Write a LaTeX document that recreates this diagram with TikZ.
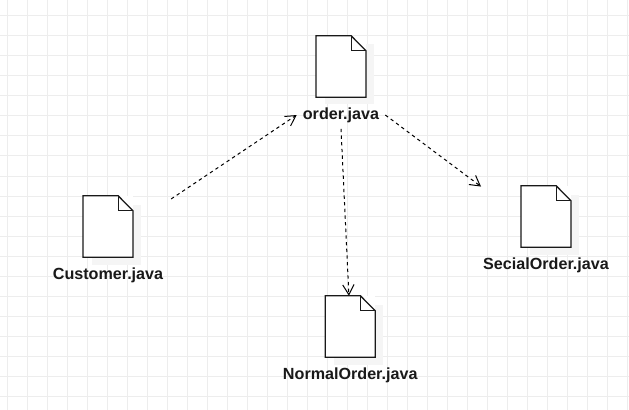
\documentclass[tikz,border=0pt]{standalone}
\usepackage{fontspec}
\setmainfont{Liberation Sans}
\usetikzlibrary{arrows.meta, positioning}

\begin{document}
\begin{tikzpicture}[x=0.75pt, y=-0.75pt, node distance=0pt]
    % Styles
    \tikzstyle{gridline} = [draw, line width=0.75pt, black!7]
    \tikzstyle{docbox} = [rectangle, fill=white, inner sep=0pt, minimum width=37pt, minimum height=45.75pt]
    \tikzstyle{docline} = [draw, line width=0.95pt, black!90, line join=miter]
    \tikzstyle{docshadow} = [fill=black!4]
    \tikzstyle{doclabel} = [font=\bfseries\fontsize{12.1pt}{14pt}\selectfont, text=black!90, inner xsep=4.5pt, inner ysep=4.5pt]
    \tikzstyle{depline} = [draw, -{Straight Barb[length=7.5pt, width=8.5pt]}, line width=0.75pt, dash pattern=on 2.5pt off 2.5pt]

    \useasboundingbox (0,0) rectangle (629,410);
    \fill [white] (0,0) rectangle (629,410);

    % Grid
    \foreach \gx in {7,27,...,627} \draw [gridline] (\gx,0) -- (\gx,410);
    \foreach \gy in {16,36,...,396} \draw [gridline] (0,\gy) -- (629,\gy);

    % Nodes
    \foreach \name/\px/\py/\txt in {order/341/66.5/order.java, customer/108/226.5/Customer.java, social/546/216.5/SecialOrder.java, normal/350.25/326.5/NormalOrder.java} {
        \fill [docshadow] (\px-16.5,\py-22) rectangle (\px+33,\py+38);
        \node [docbox] (\name) at (\px,\py) {};
        \draw [docline] (\name.north west) -- ([xshift=26.3pt]\name.north west) -- ([yshift=-11.25pt]\name.north east) -- (\name.south east) -- (\name.south west) -- cycle;
        \draw [docline] ([xshift=26.3pt]\name.north west) -- ([xshift=26.3pt, yshift=-11.25pt]\name.north west) -- ([yshift=-11.25pt]\name.north east);
        \node [doclabel, below=3pt of \name] (\name txt) {\txt};
    }

    % Paths
    \draw [depline, shorten <=34.5pt] ([yshift=1.5pt]customer.east) -- (ordertxt.west);
    \draw [depline, shorten >=37.5pt] (ordertxt.east) -- (social.west);
    \draw [depline] (ordertxt.south) -- ([xshift=-1pt]normal.north);

\end{tikzpicture}
\end{document}
